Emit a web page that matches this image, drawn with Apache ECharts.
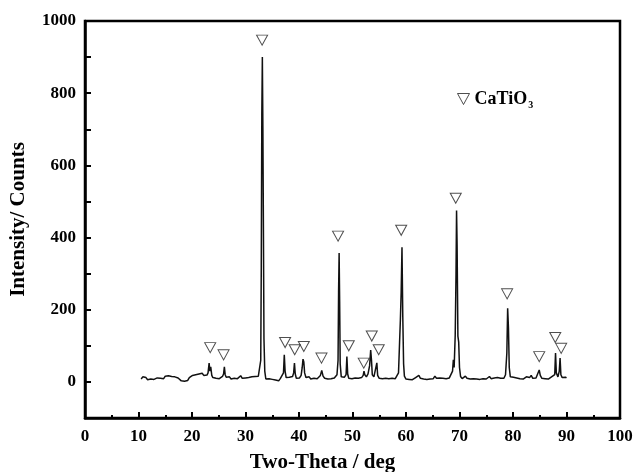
<!DOCTYPE html>
<html><head><meta charset="utf-8">
<script src="https://cdn.jsdelivr.net/npm/echarts@6/dist/echarts.min.js"></script>
<style>html,body{margin:0;padding:0;background:#fff}#c{width:633px;height:472px}</style>
</head><body><div id="c"></div>
<script>
// XRD pattern (2θ in degrees, intensity in counts)
var twoTheta = [10.5,10.8,11.1,11.4,11.7,12.0,12.3,12.6,12.9,13.2,13.5,13.8,14.1,14.4,14.7,15.0,15.3,15.6,15.9,16.2,16.5,16.8,17.1,17.4,17.7,18.0,18.3,18.6,18.9,19.2,19.5,19.8,20.1,20.4,20.7,21.0,21.3,21.6,21.9,22.2,22.5,22.8,23.0,23.2,23.35,23.5,23.7,23.9,24.2,24.5,24.8,25.1,25.4,25.7,25.9,26.05,26.2,26.4,26.7,27.0,27.3,27.6,27.9,28.2,28.5,28.8,29.1,29.4,29.7,30.0,30.3,30.6,30.9,31.2,31.5,31.8,32.1,32.4,32.7,32.85,32.95,33.05,33.15,33.25,33.35,33.45,33.6,33.8,34.1,34.4,34.7,35.0,35.3,35.6,35.9,36.2,36.5,36.8,37.1,37.25,37.4,37.6,37.9,38.2,38.5,38.8,39.0,39.15,39.3,39.5,39.8,40.1,40.4,40.6,40.75,40.9,41.05,41.3,41.6,41.9,42.2,42.5,42.8,43.1,43.4,43.7,44.0,44.25,44.5,44.8,45.1,45.4,45.7,46.0,46.3,46.6,46.9,47.1,47.3,47.4,47.5,47.6,47.7,47.9,48.2,48.5,48.8,48.95,49.1,49.3,49.6,49.9,50.2,50.5,50.8,51.1,51.4,51.7,52.0,52.15,52.3,52.6,52.9,53.2,53.4,53.55,53.7,54.0,54.3,54.55,54.7,55.0,55.3,55.6,55.9,56.2,56.5,56.8,57.1,57.4,57.7,58.0,58.3,58.6,58.8,58.95,59.1,59.25,59.4,59.55,59.7,60.0,60.3,60.6,60.9,61.2,61.5,61.8,62.1,62.4,62.7,63.0,63.3,63.6,63.9,64.2,64.5,64.8,65.1,65.4,65.7,66.0,66.3,66.6,66.9,67.2,67.5,67.8,68.1,68.4,68.7,68.85,69.0,69.2,69.35,69.45,69.55,69.7,69.85,70.0,70.2,70.5,70.8,71.1,71.4,71.7,72.0,72.3,72.6,72.9,73.2,73.5,73.8,74.1,74.4,74.7,75.0,75.3,75.6,75.9,76.2,76.5,76.8,77.1,77.4,77.7,78.0,78.3,78.6,78.85,79.0,79.15,79.3,79.5,79.8,80.1,80.4,80.7,81.0,81.3,81.6,81.9,82.2,82.5,82.8,83.1,83.4,83.7,84.0,84.3,84.6,84.9,85.1,85.4,85.7,86.0,86.3,86.6,86.9,87.2,87.5,87.8,87.95,88.1,88.4,88.65,88.8,88.95,89.2,89.5,89.8,90.0];
var counts = [8,14,9,12,6,10,8,13,7,9,11,6,10,14,9,16,11,17,12,15,10,14,9,11,6,3,1,2,0,4,12,8,18,13,20,15,22,17,24,18,14,19,25,52,30,42,18,12,16,10,14,9,12,15,22,42,20,13,9,14,8,12,10,15,9,13,17,10,14,11,16,12,9,14,11,15,12,16,20,60,320,740,900,700,420,120,30,8,5,9,4,7,10,5,8,3,9,14,25,75,30,12,8,13,9,15,25,52,22,10,14,11,18,40,63,55,25,12,9,14,8,12,10,15,9,13,18,32,16,10,13,8,12,9,14,11,15,20,60,250,357,220,50,14,9,13,20,70,22,10,14,9,13,11,15,10,14,12,18,30,20,14,22,45,88,60,20,14,12,53,18,10,14,9,12,10,14,9,13,10,12,9,14,25,110,172,250,373,180,50,16,8,11,7,10,6,9,12,8,18,10,14,8,11,7,10,8,12,9,16,10,8,11,7,10,6,9,8,11,14,30,61,40,130,300,475,380,127,110,40,15,9,12,16,10,14,8,11,9,13,8,10,7,11,9,12,8,10,15,9,7,11,8,12,9,10,13,10,20,80,204,150,40,14,9,13,8,11,15,9,12,8,10,14,9,12,18,10,8,11,16,33,18,10,13,9,12,8,11,14,10,20,80,25,14,30,66,20,12,10,13,11];
// CaTiO3 reflection markers (position, marker height)
var markTheta = [23.4,25.9,33.1,37.4,39.2,40.9,44.2,47.3,49.3,52.1,53.6,54.9,59.1,69.3,78.9,84.9,87.9,89.0];
var markHeight = [95,75,947,109,89,98,66,404,100,52,127,89,420,509,244,70,123,93];
var xTicks = [0,10,20,30,40,50,60,70,80,90,100];
var yTicks = [0,200,400,600,800,1000];

var font = "'Times New Roman','Liberation Serif',serif";
var pattern = twoTheta.map(function(t,i){return [t, counts[i]];});
var marks = markTheta.map(function(t,i){return [t, markHeight[i]];});

var chart = echarts.init(document.getElementById('c'), null, {renderer:'canvas'});
chart.setOption({
  animation:false,
  backgroundColor:'#fff',
  grid:{left:85,right:13,top:21,bottom:54,containLabel:false,outerBoundsMode:'none',
        show:true,borderColor:'#000',borderWidth:2.5,backgroundColor:'transparent'},
  legend:{
    data:[{name:'CaTiO3',icon:'path://M0,0L12,0L6,11Z'}], left:452, top:85, itemWidth:12, itemHeight:11, itemGap:4,
    itemStyle:{color:'rgba(255,255,255,0)',borderColor:'#222',borderWidth:1},
    formatter:function(){return '{a|CaTiO}{s|3}';},
    textStyle:{fontFamily:font,fontWeight:'bold',color:'#000',
      rich:{a:{fontFamily:font,fontWeight:'bold',fontSize:18,color:'#000'},
            s:{fontFamily:font,fontWeight:'bold',fontSize:10,color:'#000',padding:[12,0,0,1]}}}
  },
  xAxis:{
    type:'value', min:0, max:100, interval:10,
    name:'Two-Theta / deg', nameLocation:'middle', nameGap:34,
    nameTextStyle:{fontFamily:font,fontWeight:'bold',fontSize:21,color:'#000',padding:[0,60,0,0]},
    axisLine:{show:true,onZero:false,lineStyle:{color:'#000',width:2.5}},
    axisTick:{show:true,inside:true,length:6,lineStyle:{color:'#000',width:2}},
    minorTick:{show:true,splitNumber:2,length:3,lineStyle:{color:'#000',width:2}},
    axisLabel:{margin:10,fontFamily:font,fontWeight:'bold',fontSize:17,color:'#000',
      formatter:function(v){return xTicks.indexOf(v)>=0?String(v):'';}},
    splitLine:{show:false}
  },
  yAxis:{
    type:'value', min:-100, max:1000, interval:100,
    name:'Intensity/ Counts', nameLocation:'middle', nameGap:56,
    nameTextStyle:{fontFamily:font,fontWeight:'bold',fontSize:21,color:'#000'},
    axisLine:{show:true,onZero:false,lineStyle:{color:'#000',width:2.5}},
    axisTick:{show:true,inside:true,length:6,lineStyle:{color:'#000',width:2}},
    axisLabel:{margin:9,fontFamily:font,fontWeight:'bold',fontSize:17,color:'#000',
      formatter:function(v){return yTicks.indexOf(v)>=0?String(v):'';}},
    splitLine:{show:false}
  },
  series:[
    {type:'line',name:'pattern',data:pattern,showSymbol:false,symbol:'none',
     lineStyle:{color:'#111',width:1.5},z:3},
    {type:'scatter',name:'CaTiO3',data:marks,symbol:'triangle',symbolRotate:180,symbolSize:[11,10],
     itemStyle:{color:'rgba(255,255,255,0)',borderColor:'#222',borderWidth:1},z:4}
  ]
});
</script></body></html>
